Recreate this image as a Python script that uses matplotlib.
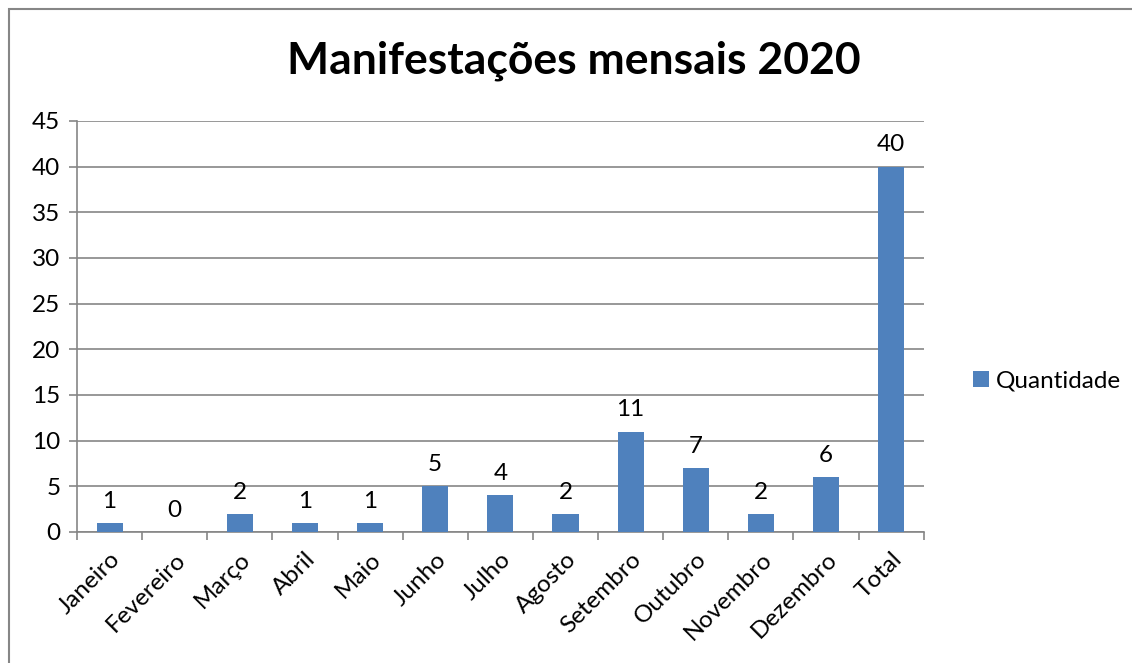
import numpy as np
import matplotlib
matplotlib.use('Agg')
import matplotlib.pyplot as plt
from matplotlib.patches import Rectangle

plt.rcParams['font.family'] = ['Lato', 'DejaVu Sans']

# dados
meses = ['Janeiro', 'Fevereiro', 'Março', 'Abril', 'Maio', 'Junho', 'Julho',
         'Agosto', 'Setembro', 'Outubro', 'Novembro', 'Dezembro', 'Total']
quantidade = [1, 0, 2, 1, 1, 5, 4, 2, 11, 7, 2, 6, 40]
yticks = [0, 5, 10, 15, 20, 25, 30, 35, 40, 45]

azul = '#4F81BD'
cinza = '#868686'

fig = plt.figure(figsize=(11.32, 6.63), dpi=100)
ax = fig.add_axes([0.068, 0.1976, 0.748, 0.62])

x = np.arange(len(meses))
bars = ax.bar(x, quantidade, width=0.4, color=azul, zorder=3, label='Quantidade')

for xi, v in zip(x, quantidade):
    ax.annotate(str(v), (xi, v), xytext=(0, 8), textcoords='offset points',
                ha='center', va='bottom', fontsize=17.5)

ax.set_xlim(-0.5, len(meses) - 0.5)
ax.set_ylim(0, 45)
ax.set_yticks(yticks)
ax.yaxis.grid(True, color=cinza, linewidth=1.2, zorder=0)
ax.set_axisbelow(True)

ax.set_xticks(x)
ax.set_xticklabels(meses, rotation=45, ha='right', rotation_mode='anchor', fontsize=17.5)
ax.set_xticks(np.arange(-0.5, len(meses)), minor=True)
ax.tick_params(axis='x', which='major', length=0, pad=12)
ax.tick_params(axis='x', which='minor', length=6, width=1.2, color=cinza, direction='out')
ax.tick_params(axis='y', length=6, width=1.2, color=cinza, direction='out', labelsize=17.5, pad=6)

for s in ['top', 'right']:
    ax.spines[s].set_visible(False)
for s in ['left', 'bottom']:
    ax.spines[s].set_color(cinza)
    ax.spines[s].set_linewidth(1.2)

fig.text(0.507, 0.908, 'Manifestações mensais 2020', ha='center', va='center',
         fontsize=32, fontweight='bold')

leg = fig.legend(handles=[bars], labels=['Quantidade'], loc='center left',
                 bbox_to_anchor=(0.84, 0.425), frameon=False, fontsize=17.5,
                 handlelength=0.65, handleheight=0.65, handletextpad=0.3)

# borda da área do gráfico
fig.patches.append(Rectangle((0.008, -0.1), 1.2, 1.0864, transform=fig.transFigure,
                             fill=False, edgecolor=cinza, linewidth=1.5))

fig.savefig('out.png', dpi=100)
